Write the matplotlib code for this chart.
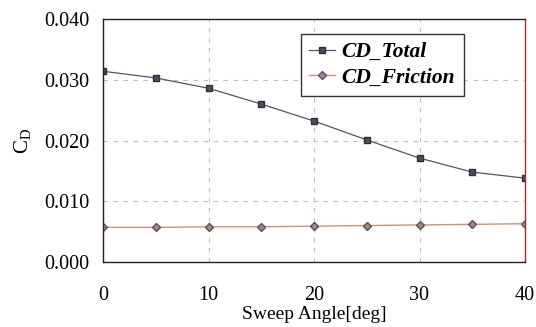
import numpy as np
import matplotlib
matplotlib.use("Agg")
from matplotlib import pyplot as plt

plt.rcParams['font.family'] = ['Liberation Serif', 'DejaVu Serif']
plt.rcParams['mathtext.fontset'] = 'custom'
plt.rcParams['mathtext.rm'] = 'Liberation Serif'

# sweep angle in degrees
sweep = [0, 5, 10, 15, 20, 25, 30, 35, 40]
cd_total = [0.0314, 0.0303, 0.0286, 0.0260, 0.0232, 0.0201, 0.0171, 0.0148, 0.0138]
cd_friction = [0.0057, 0.0057, 0.0058, 0.0058, 0.0059, 0.0060, 0.0061, 0.0062, 0.0063]

fig = plt.figure(figsize=(5.36, 3.27), dpi=100)
ax = fig.add_axes([103/536, 1 - 262/327, 422/536, 243/327])

ax.plot(sweep, cd_total, '-', color='#555560', lw=0.9, marker='s', ms=4.5,
        mfc='#4a4d5c', mec='#2e3040', label='CD_Total')
ax.plot(sweep, cd_friction, '-', color='#d89068', lw=1.0, marker='D', ms=3.8,
        mfc='#a08890', mec='#6a4a5a', label='CD_Friction')

ax.set_xlim(0, 40)
ax.set_ylim(0, 0.040)
ax.set_xticks([0, 10, 20, 30, 40])
ax.set_yticks([0, 0.01, 0.02, 0.03, 0.04])
ax.set_yticklabels(['0.000', '0.010', '0.020', '0.030', '0.040'])
ax.tick_params(length=0, labelsize=14.5, pad=10)
ax.tick_params(axis='x', pad=17)

ax.grid(True, ls=(0, (4, 5)), color='#c0c0c0', lw=0.8)
for s in ax.spines.values():
    s.set_color('#222222')
    s.set_linewidth(1.0)
ax.spines['right'].set_color('#a03030')

ax.set_xlabel('Sweep Angle[deg]', fontsize=14, labelpad=1)
ax.set_ylabel('$\\mathrm{C_D}$', fontsize=15, labelpad=8)

leg = ax.legend(loc='upper right', bbox_to_anchor=(0.855, 0.94),
                prop={'family': 'Liberation Serif', 'weight': 'bold',
                      'style': 'italic', 'size': 15.5},
                fancybox=False, edgecolor='#333333', framealpha=1,
                handlelength=1.2, handletextpad=0.3, borderpad=0.4,
                borderaxespad=0, labelspacing=0.25)
leg.get_frame().set_linewidth(1.0)

fig.savefig('out.png', dpi=100)
